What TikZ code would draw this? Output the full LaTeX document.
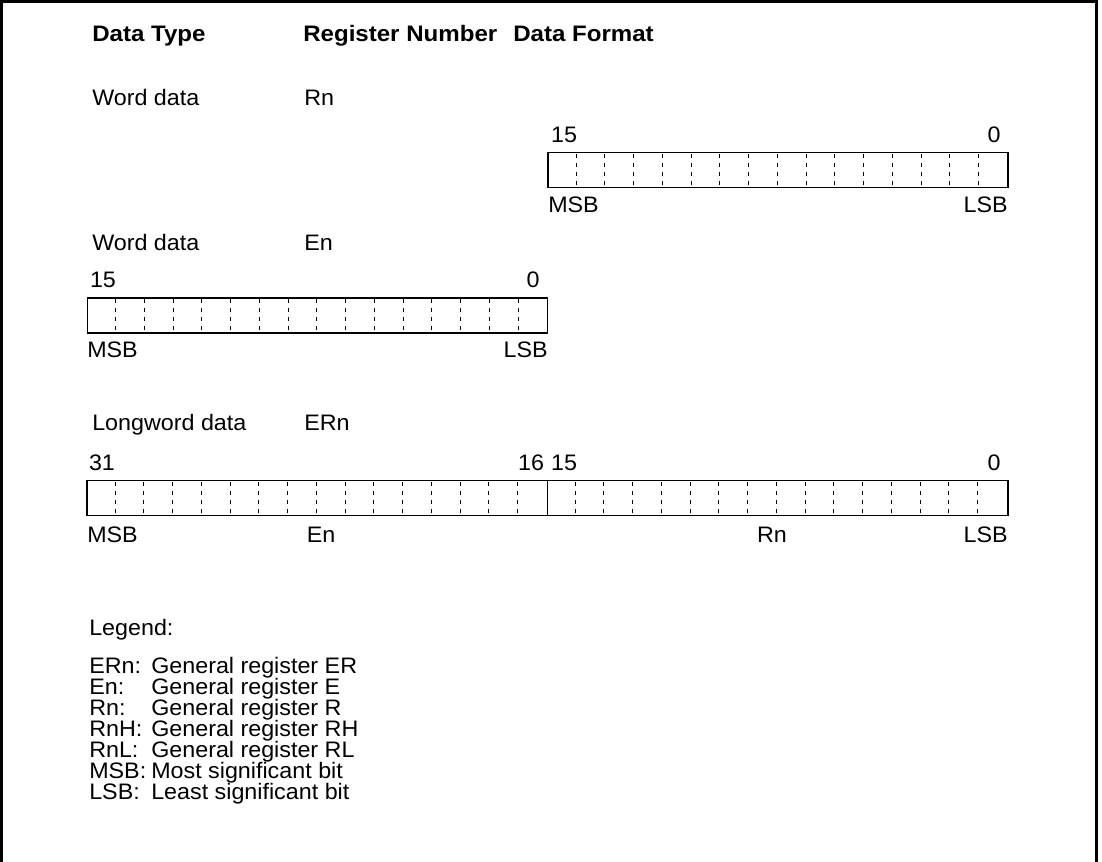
\documentclass[tikz,border=0pt]{standalone}
\usepackage{fontspec}
\setmainfont{Liberation Sans}[FakeStretch=1.04]
\newfontfamily\headfont{Liberation Sans Bold}[FakeStretch=1.075]
\usetikzlibrary{positioning}

\begin{document}
\begin{tikzpicture}[x=0.75pt,y=-0.75pt]
  \tikzset{txt/.style={inner sep=0pt,font=\fontsize{16.8pt}{20pt}\selectfont},
    head/.style={txt,font=\fontsize{16.8pt}{20pt}\headfont,anchor=base west},
    regbox/.style={draw,line width=1pt,inner sep=0pt,minimum height=26.25pt},
    bitsep/.style={line width=0.85pt,dash pattern=on 3pt off 3.75pt}}
  \useasboundingbox (0,0) rectangle (1102,862);
  \draw[line width=1.8pt] (1.5,862) -- (1.5,1.5) -- (1096.5,1.5) -- (1096.5,862);

  % column heads
  \node[head] (hdtype) at (92,42) {Data Type};
  \node[head] (hdreg) at (303,42) {Register Number};
  \node[head] (hdfmt) at (513,42) {Data Format};

  % word data, Rn
  \node[txt,anchor=base west] (type1) at (92,106) {Word data};
  \node[txt,anchor=base west] (name1) at (304,106) {Rn};
  \node[regbox,minimum width=345pt] (reg1) at (778,170) {};
  \foreach \i in {1,...,15}
    \draw[bitsep] ([xshift=\i*21.5625pt,yshift=-1.5pt]reg1.north west) -- ++(0,31);
  \node[txt,anchor=base] (hi1) at (564,143) {15};
  \node[txt,anchor=base] (lo1) at (994,143) {0};
  \node[txt,anchor=base west] (msb1) at (548,213) {MSB};
  \node[txt,anchor=base east] (lsb1) at (1008,213) {LSB};

  % word data, En
  \node[txt,anchor=base west] (type2) at (92,251) {Word data};
  \node[txt,anchor=base west] (name2) at (304,251) {En};
  \node[regbox,minimum width=345pt] (reg2) at (317.5,315.5) {};
  \foreach \i in {1,...,15}
    \draw[bitsep] ([xshift=\i*21.5625pt,yshift=-1.5pt]reg2.north west) -- ++(0,31);
  \node[txt,anchor=base] (hi2) at (103,288) {15};
  \node[txt,anchor=base] (lo2) at (533,288) {0};
  \node[txt,anchor=base west] (msb2) at (87,358) {MSB};
  \node[txt,anchor=base east] (lsb2) at (548,358) {LSB};

  % longword data, ERn
  \node[txt,anchor=base west] (type3) at (92,431) {Longword data};
  \node[txt,anchor=base west] (name3) at (304,431) {ERn};
  \node[regbox,minimum width=690.75pt] (reg3) at (547.5,498) {};
  \foreach \i in {1,...,15,17,18,...,31}
    \draw[bitsep] ([xshift=\i*21.5625pt,yshift=-1.5pt]reg3.north west) -- ++(0,31);
  \draw[line width=1pt] (reg3.north) -- (reg3.south);
  \node[txt,anchor=base] (hi3) at (102,470) {31};
  \node[txt,anchor=base] (mid3a) at (531,470) {16};
  \node[txt,anchor=base] (mid3b) at (564,470) {15};
  \node[txt,anchor=base] (lo3) at (994,470) {0};
  \node[txt,anchor=base west] (msb3) at (87,542) {MSB};
  \node[txt,anchor=base] (en3) at (321,542) {En};
  \node[txt,anchor=base] (rn3) at (772,542) {Rn};
  \node[txt,anchor=base east] (lsb3) at (1008,542) {LSB};

  % legend
  \node[txt,anchor=base west] (legend) at (89,635) {Legend:};
  \foreach \k/\d [count=\n] in {ERn/General register ER,En/General register E,
      Rn/General register R,RnH/General register RH,RnL/General register RL,
      MSB/Most significant bit,LSB/Least significant bit}{
    \node[txt,anchor=base west] (key\n) at (89,652+21*\n) {\k:};
    \node[txt,anchor=base west] (desc\n) at (151,652+21*\n) {\d};
  }
\end{tikzpicture}
\end{document}
